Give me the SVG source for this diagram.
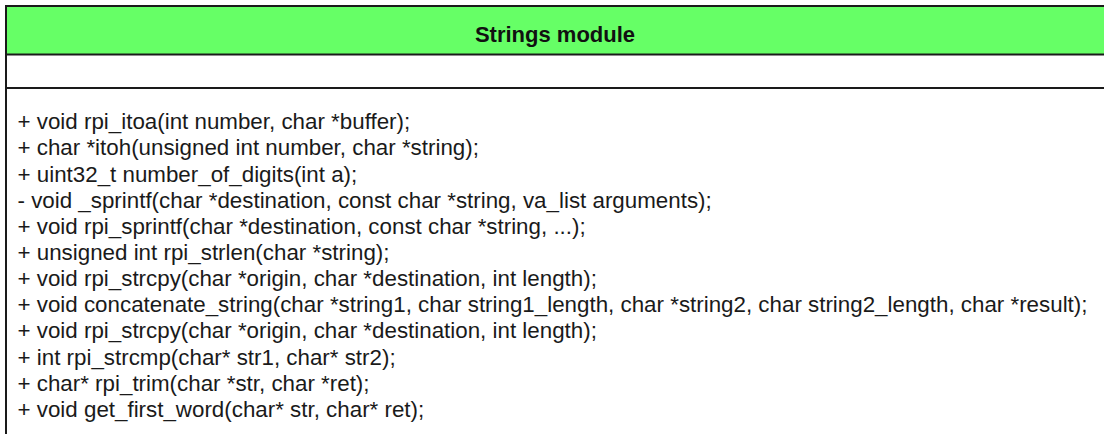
<svg xmlns="http://www.w3.org/2000/svg" width="1104" height="434" viewBox="0 0 1104 434">
  <style>
    .frame { fill: #ffffff; stroke: #1a1a1a; stroke-width: 2; }
    .head { fill: #66ff66; stroke: #1a1a1a; stroke-width: 2; }
    .sep { stroke: #1a1a1a; stroke-width: 2; fill: none; }
    .title { font-family: "Liberation Sans", Arial, sans-serif; font-size: 22px; font-weight: bold; fill: #111111; }
    .op { font-family: "Liberation Sans", Arial, sans-serif; font-size: 22.35px; fill: #1a1a1a; }
  </style>
  <rect width="1104" height="434" fill="#ffffff"/>
  <g id="strings-module">
    <!-- class box: extends past the right and bottom edges -->
    <rect class="frame" x="6" y="6" width="1110" height="440"/>
    <rect class="head" x="6" y="6" width="1110" height="48.5"/>
    <line class="sep" x1="6" y1="88" x2="1110" y2="88"/>
    <text class="title" x="555" y="42" text-anchor="middle">Strings module</text>
    <g class="op">
      <text x="17.5" y="129.3">+ void rpi_itoa(int number, char *buffer);</text>
      <text x="17.5" y="155.4">+ char *itoh(unsigned int number, char *string);</text>
      <text x="17.5" y="181.6">+ uint32_t number_of_digits(int a);</text>
      <text x="17.5" y="207.7">- void _sprintf(char *destination, const char *string, va_list arguments);</text>
      <text x="17.5" y="233.8">+ void rpi_sprintf(char *destination, const char *string, ...);</text>
      <text x="17.5" y="259.9">+ unsigned int rpi_strlen(char *string);</text>
      <text x="17.5" y="286.1">+ void rpi_strcpy(char *origin, char *destination, int length);</text>
      <text x="17.5" y="312.2">+ void concatenate_string(char *string1, char string1_length, char *string2, char string2_length, char *result);</text>
      <text x="17.5" y="338.3">+ void rpi_strcpy(char *origin, char *destination, int length);</text>
      <text x="17.5" y="364.5">+ int rpi_strcmp(char* str1, char* str2);</text>
      <text x="17.5" y="390.6">+ char* rpi_trim(char *str, char *ret);</text>
      <text x="17.5" y="416.7">+ void get_first_word(char* str, char* ret);</text>
    </g>
  </g>
</svg>
